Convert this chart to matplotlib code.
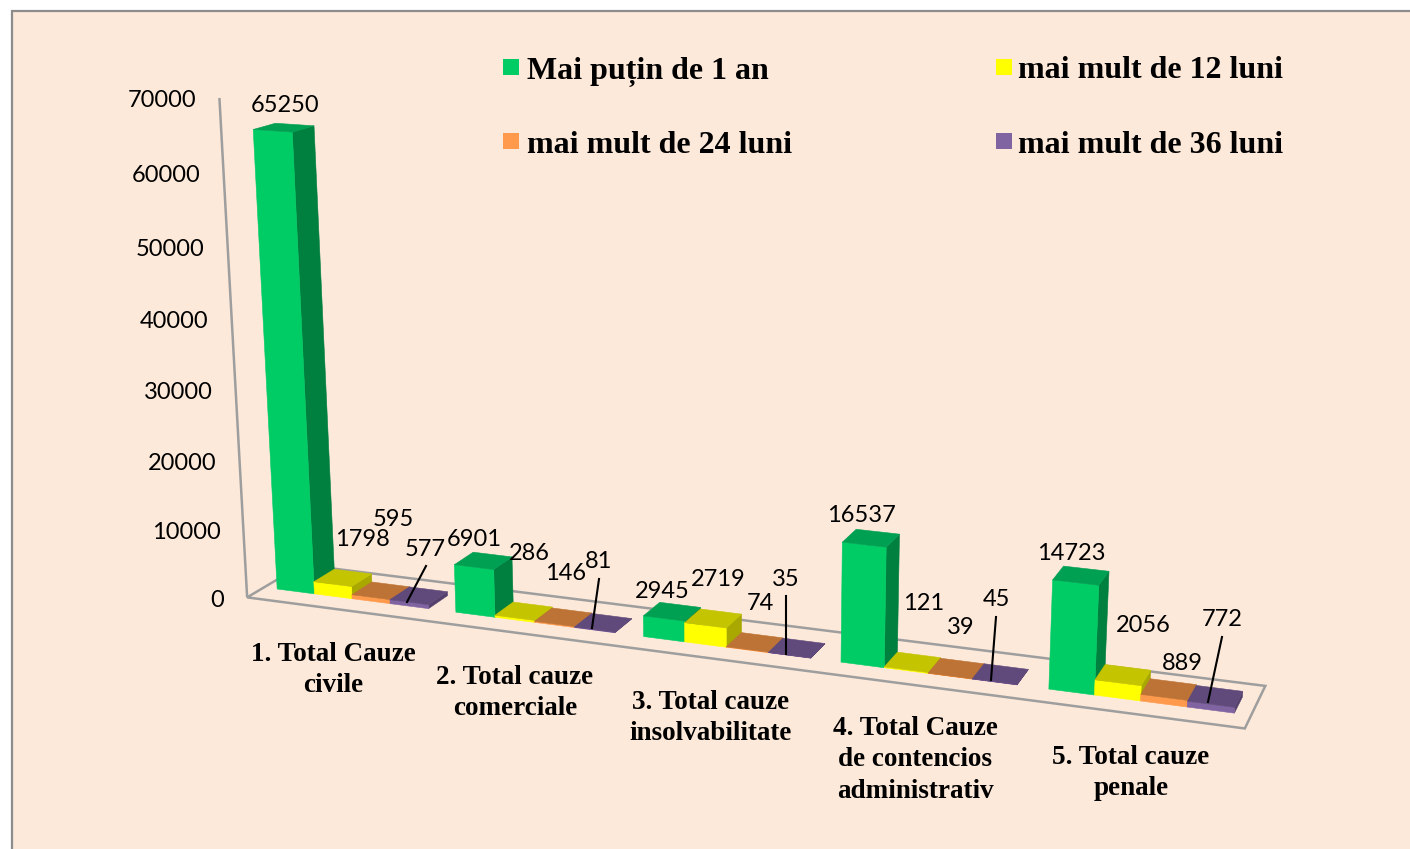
import matplotlib

matplotlib.use("Agg")
import matplotlib.pyplot as plt
import numpy as np
from matplotlib.patches import Polygon, Rectangle

categories = [
    "1. Total Cauze\ncivile",
    "2. Total cauze\ncomerciale",
    "3. Total cauze\ninsolvabilitate",
    "4. Total Cauze\nde contencios\nadministrativ",
    "5. Total cauze\npenale",
]
series_names = [
    "Mai puțin de 1 an",
    "mai mult de 12 luni",
    "mai mult de 24 luni",
    "mai mult de 36 luni",
]
under_1_year = [65250, 6901, 2945, 16537, 14723]
over_12_months = [1798, 286, 2719, 121, 2056]
over_24_months = [595, 146, 74, 39, 889]
over_36_months = [577, 81, 35, 45, 772]
value_ticks = [0, 10000, 20000, 30000, 40000, 50000, 60000, 70000]

series_values = [under_1_year, over_12_months, over_24_months, over_36_months]

# front, top and side shade of each series
SHADES = [
    ("#00CC66", "#00A052", "#00803F"),
    ("#FFFF00", "#C4C400", "#A8A800"),
    ("#FF9A4C", "#BD7335", "#A5642C"),
    ("#8064A2", "#604A7B", "#54406C"),
]
BACKGROUND = "#FDE9D9"
WALL = "#9E9E9E"
FRAME = "#8C8C8C"
NUMBER_FONT = "Lato"
SERIF_FONT = "Liberation Serif"

BAR_WIDTH = 0.2125
GROUP_GAP = 0.15
BAR_DEPTH = (0.30, 0.68)

# where the 3D box lands in the picture: (category, depth, value) -> pixel, weight
CALIBRATION = [
    ((0, 0, 0), (248, 598), 4),
    ((5, 0, 0), (1246, 728), 4),
    ((5, 1, 0), (1266, 686), 3),
    ((0, 1, 0), (303, 566), 2),
    ((0, 0, 35000), (232.5, 355), 2),
    ((0, 0, 70000), (219, 97), 4),
    ((5, 0, 70000), (1278, 193), 1),
    ((0.075, 0.3, 0), (278, 590), 2),
    ((1.075, 0.3, 0), (455, 613), 2),
    ((2.075, 0.3, 0), (642, 637), 3),
    ((3.075, 0.3, 0), (840, 662), 3),
    ((4.075, 0.3, 0), (1048, 688), 2),
    ((4.925, 0.3, 0), (1234, 712), 2),
    ((0.075, 0.3, 65250), (254, 129), 4),
    ((3.075, 0.3, 16537), (841, 542), 4),
    ((4.075, 0.3, 14723), (1053, 579), 4),
]

# hand placed label centres, in pixels
VALUE_LABEL_POS = [
    [(285, 105), (362, 539), (393, 520), (425, 550)],
    [(474, 540), (529, 554), (566, 573), (599, 562)],
    [(662, 592), (718, 579), (760, 603), (786, 579)],
    [(861, 516), (924, 603), (961, 627), (996, 600)],
    [(1071, 553), (1143, 625), (1182, 664), (1222, 620)],
]
CATEGORY_POS = [(333, 670), (515, 693), (711, 718), (915, 760), (1131, 773)]
LEADERS = [
    ((426, 566), (407, 602)),
    ((599, 579), (592, 628)),
    ((786, 596), (786, 654)),
    ((996, 617), (991, 680)),
    ((1222, 637), (1208, 702)),
]
LEGEND_POS = [(503, 59, 527, 72), (996, 59, 1018, 70), (503, 133, 527, 145), (996, 133, 1018, 145)]


def fit_projection(points):
    rows, targets = [], []
    for (u, v, z), (px, py), weight in points:
        w = z / 70000
        rows.append([weight * c for c in (u, v, w, 1, 0, 0, 0, 0, -px * u, -px * v, -px * w)])
        rows.append([weight * c for c in (0, 0, 0, 0, u, v, w, 1, -py * u, -py * v, -py * w)])
        targets += [weight * px, weight * py]
    solution = np.linalg.lstsq(np.array(rows, float), np.array(targets, float), rcond=None)[0]
    return np.append(solution, 1).reshape(3, 4)


PROJECTION = fit_projection(CALIBRATION)


def project(u, v, z):
    x, y, h = PROJECTION @ np.array([u, v, z / 70000, 1])
    return x / h, y / h


def draw_bar(ax, left, right, value, shades):
    near, far = BAR_DEPTH
    front = [project(left, near, 0), project(right, near, 0), project(right, near, value), project(left, near, value)]
    side = [project(right, near, 0), project(right, far, 0), project(right, far, value), project(right, near, value)]
    top = [project(left, near, value), project(right, near, value), project(right, far, value), project(left, far, value)]
    ax.add_patch(Polygon(side, facecolor=shades[2], edgecolor=shades[2], linewidth=0.4))
    ax.add_patch(Polygon(front, facecolor=shades[0], edgecolor=shades[0], linewidth=0.4))
    ax.add_patch(Polygon(top, facecolor=shades[1], edgecolor=shades[1], linewidth=0.4))


def main():
    fig = plt.figure(figsize=(14.1, 8.49), dpi=100, facecolor="white")
    ax = fig.add_axes([0, 0, 1, 1])
    ax.set_xlim(0, 1410)
    ax.set_ylim(849, 0)
    ax.axis("off")

    ax.add_patch(Rectangle((12, 11), 1400, 840, facecolor=BACKGROUND, edgecolor=FRAME, linewidth=1.6))

    # floor and value axis
    floor = [project(0, 0, 0), project(5, 0, 0), project(5, 1, 0), project(0, 1, 0)]
    ax.add_patch(Polygon(floor, closed=True, fill=False, edgecolor=WALL, linewidth=1.8))
    axis_x, axis_y = zip(project(0, 0, 0), project(0, 0, value_ticks[-1]))
    ax.plot(axis_x, axis_y, color=WALL, linewidth=1.8, solid_capstyle="butt")

    for tick in value_ticks:
        x, y = project(0, 0, tick)
        ax.text(x - 23, y + 3, str(tick), ha="right", va="center", family=NUMBER_FONT, fontsize=17, color="black")

    for group in range(len(categories)):
        for s, values in enumerate(series_values):
            left = group + GROUP_GAP / 2 + s * BAR_WIDTH
            draw_bar(ax, left, left + BAR_WIDTH, values[group], SHADES[s])

    for group, positions in enumerate(VALUE_LABEL_POS):
        for s, (x, y) in enumerate(positions):
            ax.text(x, y, str(series_values[s][group]), ha="center", va="center",
                    family=NUMBER_FONT, fontsize=17, color="black")

    for start, end in LEADERS:
        ax.plot(*zip(start, end), color="black", linewidth=1.5)

    for label, (x, y) in zip(categories, CATEGORY_POS):
        ax.text(x, y, label, ha="center", va="center", family=SERIF_FONT, fontweight="bold",
                fontsize=19.5, linespacing=1.34, color="black")

    for name, shades, (bx, by, tx, ty) in zip(series_names, SHADES, LEGEND_POS):
        ax.add_patch(Rectangle((bx, by), 16, 16, facecolor=shades[0], edgecolor="none"))
        ax.text(tx, ty, name, ha="left", va="center", family=SERIF_FONT, fontweight="bold",
                fontsize=23, color="black")

    fig.savefig("out.png", dpi=100, facecolor="white")


if __name__ == "__main__":
    main()
